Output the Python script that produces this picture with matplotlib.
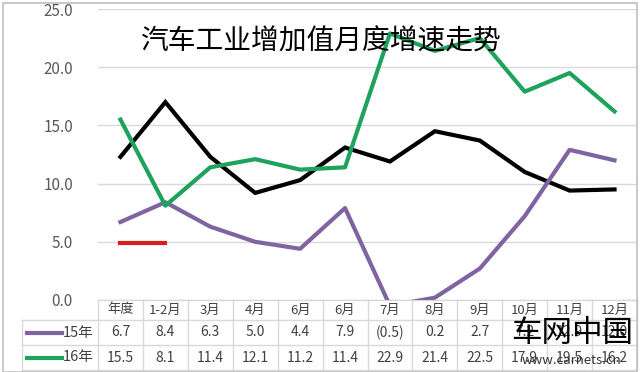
import numpy as np
import matplotlib
matplotlib.use("Agg")
import matplotlib.pyplot as plt
import matplotlib.transforms as mtransforms
from matplotlib.patches import Rectangle

plt.rcParams['font.family'] = ['Noto Sans CJK SC', 'DejaVu Sans']

# Data
categories = ['年度', '1-2月', '3月', '4月', '6月', '6月', '7月', '8月', '9月', '10月', '11月', '12月']
y15 = [6.7, 8.4, 6.3, 5.0, 4.4, 7.9, -0.5, 0.2, 2.7, 7.2, 12.9, 12.0]
y16 = [15.5, 8.1, 11.4, 12.1, 11.2, 11.4, 22.9, 21.4, 22.5, 17.9, 19.5, 16.2]
y_black = [12.3, 17.0, 12.3, 9.2, 10.3, 13.1, 11.9, 14.5, 13.7, 11.0, 9.4, 9.5]
y_red = [4.9, 4.9] + [np.nan] * 10
labels15 = ['6.7', '8.4', '6.3', '5.0', '4.4', '7.9', '(0.5)', '0.2', '2.7', '7.2', '12.9', '12.0']
labels16 = ['15.5', '8.1', '11.4', '12.1', '11.2', '11.4', '22.9', '21.4', '22.5', '17.9', '19.5', '16.2']
series_names = ['15年', '16年']

purple = '#8064A2'
green = '#1FA25E'
grid_c = '#d9d9d9'
text_c = '#595959'

W, H = 640, 372
fig = plt.figure(figsize=(W / 100, H / 100), dpi=100)
fig.patch.set_facecolor('white')

# outer border
fig.add_artist(Rectangle((3 / W, 0), (637 - 3) / W, (H - 3) / H, transform=fig.transFigure,
                         fill=False, edgecolor='#bfbfbf', lw=1.2))

left, right, top, bottom = 98, 637, 9, 300
ax = fig.add_axes([left / W, (H - bottom) / H, (right - left) / W, (bottom - top) / H])

x = np.arange(len(categories))
ax.plot(x, y_black, color='black', lw=3, solid_joinstyle='miter', zorder=3)
ax.plot(x, y15, color=purple, lw=3, zorder=3)
ax.plot(x, y16, color=green, lw=3, zorder=3)
ax.plot(x, y_red, color='#D81E1E', lw=3, zorder=3)

ax.set_xlim(-0.5, len(categories) - 0.5)
ax.set_ylim(0, 25)
ax.set_yticks(np.arange(0, 26, 5))
ax.set_yticklabels([f'{v:.1f}' for v in np.arange(0, 26, 5)])
ax.tick_params(axis='y', length=0, pad=18, labelsize=11, labelcolor=text_c)
ax.set_xticks([])
ax.grid(axis='y', color=grid_c, lw=1)
for s in ax.spines.values():
    s.set_visible(False)

fig.text(321 / W, 1 - 42 / H, '汽车工业增加值月度增速走势',
         ha='center', va='center', fontsize=20, color='black')

# data table below the axis
trans = mtransforms.blended_transform_factory(ax.transData, ax.transAxes)
ah = bottom - top
r0, r1, r2, r3 = 0, -20 / ah, -45 / ah, -70 / ah
xl = -0.5 - (left - 22) / ((right - left) / len(categories))
xr = len(categories) - 0.5
kw = dict(transform=trans, clip_on=False, color=grid_c, lw=1)
for yy in [r0, r1, r2, r3]:
    ax.plot([xl if yy != r0 else -0.5, xr], [yy, yy], **kw)
for i in range(len(categories) + 1):
    ax.plot([i - 0.5, i - 0.5], [r0, r3], **kw)
ax.plot([xl, xl], [r1, r3], **kw)

for i, c in enumerate(categories):
    ax.text(i, (r0 + r1) / 2, c, transform=trans, ha='center', va='center', fontsize=9.5, color='#404040')
    ax.text(i, (r1 + r2) / 2, labels15[i], transform=trans, ha='center', va='center', fontsize=10, color='#404040')
    ax.text(i, (r2 + r3) / 2, labels16[i], transform=trans, ha='center', va='center', fontsize=10, color='#404040')

for name, col, (ya, yb) in zip(series_names, [purple, green], [(r1, r2), (r2, r3)]):
    ym = (ya + yb) / 2
    ax.plot([xl + 0.12, xl + 0.9], [ym, ym], transform=trans, clip_on=False, color=col, lw=3)
    ax.text(xl + 0.9, ym, name, transform=trans, ha='left', va='center', fontsize=10.5, color='#404040')

# watermark
fig.text(572 / W, 1 - 334 / H, '车网中国', ha='center', va='center', fontsize=22, color='black')
fig.text(572 / W, 1 - 360 / H, 'www.carnets.cn', ha='center', va='center', fontsize=9.5, color='#333333')

fig.savefig('out.png', dpi=100)
